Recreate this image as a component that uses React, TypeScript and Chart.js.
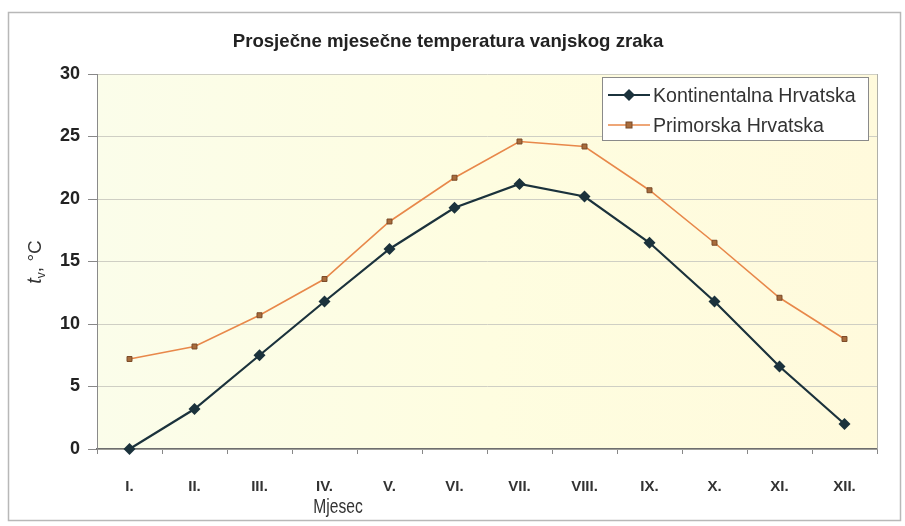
import React, { useEffect, useRef } from 'react';
import { Chart, registerables } from 'chart.js';

Chart.register(...registerables);

const months = ['I.', 'II.', 'III.', 'IV.', 'V.', 'VI.', 'VII.', 'VIII.', 'IX.', 'X.', 'XI.', 'XII.'];
const kontinentalna = [0, 3.2, 7.5, 11.8, 16.0, 19.3, 21.2, 20.2, 16.5, 11.8, 6.6, 2.0];
const primorska = [7.2, 8.2, 10.7, 13.6, 18.2, 21.7, 24.6, 24.2, 20.7, 16.5, 12.1, 8.8];
const seriesNames = ['Kontinentalna Hrvatska', 'Primorska Hrvatska'];
const chartTitle = 'Prosječne mjesečne temperatura vanjskog zraka';
const xAxisTitle = 'Mjesec';
const yAxisTitle = { main: 't', sub: 'v', rest: ', °C' };
const yMin = 0;
const yMax = 30;
const yStep = 5;

const SANS = '"Liberation Sans", Arial, sans-serif';

const K_COLOR = '#1b323c';
const P_LINE = '#e8884a';
const P_FILL = '#a86c3c';
const P_BORDER = '#7a4a28';

function drawDiamond(ctx: CanvasRenderingContext2D, x: number, y: number, r: number) {
  ctx.beginPath();
  ctx.moveTo(x, y - r);
  ctx.lineTo(x + r, y);
  ctx.lineTo(x, y + r);
  ctx.lineTo(x - r, y);
  ctx.closePath();
  ctx.fillStyle = K_COLOR;
  ctx.fill();
}

function drawSquare(ctx: CanvasRenderingContext2D, x: number, y: number, r: number) {
  ctx.fillStyle = P_FILL;
  ctx.fillRect(x - r, y - r, 2 * r, 2 * r);
  ctx.strokeStyle = P_BORDER;
  ctx.lineWidth = 1;
  ctx.strokeRect(x - r, y - r, 2 * r, 2 * r);
}

function narrowText(ctx: CanvasRenderingContext2D, text: string, x: number, y: number, sx: number) {
  ctx.save();
  ctx.translate(x, y);
  ctx.scale(sx, 1);
  ctx.fillText(text, 0, 0);
  ctx.restore();
}

const decorPlugin = {
  id: 'decor',
  beforeDraw(chart: any) {
    const { ctx, chartArea: a } = chart;
    ctx.save();
    ctx.fillStyle = '#ffffff';
    ctx.fillRect(0, 0, chart.width, chart.height);
    ctx.strokeStyle = '#b8b8b8';
    ctx.lineWidth = 1.5;
    ctx.strokeRect(8.5, 12.5, 892, 508);
    const g = ctx.createLinearGradient(a.left, 0, a.right, 0);
    g.addColorStop(0, '#fbfdea');
    g.addColorStop(0.5, '#fefde0');
    g.addColorStop(1, '#fffadc');
    ctx.fillStyle = g;
    ctx.fillRect(a.left, a.top, a.right - a.left, a.bottom - a.top);
    ctx.restore();
  },
  afterDraw(chart: any) {
    const { ctx, chartArea: a } = chart;
    ctx.save();
    ctx.strokeStyle = '#b0b0a8';
    ctx.lineWidth = 1;
    ctx.beginPath();
    ctx.moveTo(a.right + 0.5, a.top);
    ctx.lineTo(a.right + 0.5, a.bottom);
    ctx.stroke();

    // title
    ctx.fillStyle = '#222222';
    ctx.font = `bold 19px ${SANS}`;
    ctx.textAlign = 'center';
    ctx.textBaseline = 'middle';
    narrowText(ctx, chartTitle, 448, 42, 0.98);

    // x axis title
    ctx.font = `20px ${SANS}`;
    ctx.fillStyle = '#333333';
    narrowText(ctx, xAxisTitle, 338, 507, 0.78);

    // y axis title (rotated)
    ctx.save();
    ctx.translate(34, 262);
    ctx.rotate(-Math.PI / 2);
    ctx.textBaseline = 'alphabetic';
    ctx.textAlign = 'left';
    const mainFont = `italic 20px ${SANS}`;
    const subFont = `12px ${SANS}`;
    const restFont = `19px ${SANS}`;
    ctx.font = mainFont;
    const w1 = ctx.measureText(yAxisTitle.main).width;
    ctx.font = subFont;
    const w2 = ctx.measureText(yAxisTitle.sub).width;
    ctx.font = restFont;
    const w3 = ctx.measureText(yAxisTitle.rest).width;
    const total = w1 + w2 + w3;
    let x = -total / 2;
    const base = 7;
    ctx.font = mainFont;
    ctx.fillText(yAxisTitle.main, x, base);
    x += w1;
    ctx.font = subFont;
    ctx.fillText(yAxisTitle.sub, x, base + 4);
    x += w2;
    ctx.font = restFont;
    ctx.fillText(yAxisTitle.rest, x, base);
    ctx.restore();

    // legend
    const lx = 602, ly = 77, lw = 266, lh = 63;
    ctx.fillStyle = '#ffffff';
    ctx.fillRect(lx, ly, lw, lh);
    ctx.strokeStyle = '#8a8a8a';
    ctx.lineWidth = 1;
    ctx.strokeRect(lx + 0.5, ly + 0.5, lw, lh);
    const rows = [95, 125];
    ctx.font = `20px ${SANS}`;
    ctx.textAlign = 'left';
    ctx.textBaseline = 'middle';
    ctx.strokeStyle = K_COLOR;
    ctx.lineWidth = 2;
    ctx.beginPath();
    ctx.moveTo(608, rows[0]);
    ctx.lineTo(650, rows[0]);
    ctx.stroke();
    drawDiamond(ctx, 629, rows[0], 6);
    ctx.fillStyle = '#333333';
    narrowText(ctx, seriesNames[0], 653, rows[0] + 1, 0.98);
    ctx.strokeStyle = P_LINE;
    ctx.lineWidth = 1.5;
    ctx.beginPath();
    ctx.moveTo(608, rows[1]);
    ctx.lineTo(650, rows[1]);
    ctx.stroke();
    drawSquare(ctx, 629, rows[1], 3);
    ctx.fillStyle = '#333333';
    narrowText(ctx, seriesNames[1], 653, rows[1] + 1, 0.98);
    ctx.restore();
  },
};

export default function App() {
  const ref = useRef<HTMLCanvasElement | null>(null);

  useEffect(() => {
    document.body.style.margin = '0';
    const canvas = ref.current;
    if (!canvas) return;
    const chart = new Chart(canvas, {
      type: 'line',
      data: {
        labels: months,
        datasets: [
          {
            label: seriesNames[0],
            data: kontinentalna,
            borderColor: K_COLOR,
            backgroundColor: K_COLOR,
            borderWidth: 2.2,
            pointStyle: 'rectRot',
            pointRadius: 6,
            pointBorderWidth: 0,
            pointBackgroundColor: K_COLOR,
            tension: 0,
            clip: false as any,
          },
          {
            label: seriesNames[1],
            data: primorska,
            borderColor: P_LINE,
            backgroundColor: P_FILL,
            borderWidth: 1.6,
            pointStyle: 'rect',
            pointRadius: 3.5,
            pointBorderWidth: 1,
            pointBorderColor: P_BORDER,
            pointBackgroundColor: P_FILL,
            tension: 0,
            clip: false as any,
          },
        ],
      },
      options: {
        animation: false,
        responsive: false,
        layout: { padding: { left: 0, top: 74, right: 28, bottom: 0 } },
        plugins: {
          legend: { display: false },
          title: { display: false },
          tooltip: { enabled: false },
        },
        scales: {
          x: {
            offset: true,
            grid: {
              offset: true,
              drawOnChartArea: false,
              drawTicks: true,
              tickLength: 5,
              color: '#888888',
            },
            border: { display: true, color: '#6e6e6e', width: 1.5 },
            ticks: {
              color: '#333333',
              font: { family: SANS, size: 15, weight: 'bold' },
              padding: 24,
              maxRotation: 0,
              autoSkip: false,
            },
            afterFit(scale: any) {
              scale.height = 77;
            },
          },
          y: {
            min: yMin,
            max: yMax,
            ticks: {
              stepSize: yStep,
              color: '#222222',
              font: { family: SANS, size: 18, weight: 'bold' },
              padding: 8,
            },
            grid: {
              color: '#cfcfc4',
              lineWidth: 1,
              tickLength: 9,
              tickColor: '#888888',
            },
            border: { display: true, color: '#8a8a8a', width: 1 },
            afterFit(scale: any) {
              scale.width = 97;
            },
          },
        },
      },
      plugins: [decorPlugin],
    });
    return () => chart.destroy();
  }, []);

  return (
    <div style={{ width: 905, height: 526 }}>
      <canvas ref={ref} width={905} height={526} style={{ display: 'block' }} />
    </div>
  );
}
